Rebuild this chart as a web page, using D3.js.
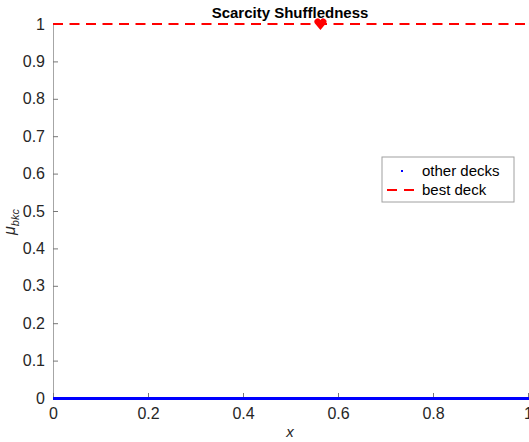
<!DOCTYPE html>
<html>
<head>
<meta charset="utf-8">
<script src="https://cdn.jsdelivr.net/npm/d3@7"></script>
<style>
  body { margin: 0; background: #fff; }
  text { font-family: "Liberation Sans", Arial, sans-serif; }
</style>
</head>
<body>
<svg class="chart"></svg>
<script>
const xTicks = [0, 0.2, 0.4, 0.6, 0.8, 1];
const yTicks = [0, 0.1, 0.2, 0.3, 0.4, 0.5, 0.6, 0.7, 0.8, 0.9, 1];
const tickLabels = ["0", "0.1", "0.2", "0.3", "0.4", "0.5", "0.6", "0.7", "0.8", "0.9", "1"];
const xTickLabels = ["0", "0.2", "0.4", "0.6", "0.8", "1"];

// other decks: all sit at 0
const otherX = [
  0, 0.01, 0.02, 0.03, 0.04, 0.05, 0.06, 0.07, 0.08, 0.09,
  0.1, 0.11, 0.12, 0.13, 0.14, 0.15, 0.16, 0.17, 0.18, 0.19,
  0.2, 0.21, 0.22, 0.23, 0.24, 0.25, 0.26, 0.27, 0.28, 0.29,
  0.3, 0.31, 0.32, 0.33, 0.34, 0.35, 0.36, 0.37, 0.38, 0.39,
  0.4, 0.41, 0.42, 0.43, 0.44, 0.45, 0.46, 0.47, 0.48, 0.49,
  0.5, 0.51, 0.52, 0.53, 0.54, 0.55, 0.56, 0.57, 0.58, 0.59,
  0.6, 0.61, 0.62, 0.63, 0.64, 0.65, 0.66, 0.67, 0.68, 0.69,
  0.7, 0.71, 0.72, 0.73, 0.74, 0.75, 0.76, 0.77, 0.78, 0.79,
  0.8, 0.81, 0.82, 0.83, 0.84, 0.85, 0.86, 0.87, 0.88, 0.89,
  0.9, 0.91, 0.92, 0.93, 0.94, 0.95, 0.96, 0.97, 0.98, 0.99, 1
];
const otherY = 0;

// best deck: dashed line at 1, marker at its x
const bestLine = [[0, 1], [1, 1]];
const bestMarker = { x: 0.563, y: 1 };

const width = 529;
const height = 442;
const margin = { top: 24, right: 1, bottom: 44, left: 53 };

const svg = d3.select(".chart").attr("width", width).attr("height", height);

const x = d3.scaleLinear().domain([0, 1]).range([margin.left, width - margin.right]);
const y = d3.scaleLinear().domain([0, 1]).range([height - margin.bottom, margin.top]);

// y axis
const yAxis = svg.append("g")
  .attr("transform", `translate(${margin.left},0)`)
  .call(d3.axisLeft(y).tickValues(yTicks).tickFormat((d, i) => tickLabels[i]).tickSizeInner(-5).tickSizeOuter(0).tickPadding(8));
yAxis.select(".domain").attr("stroke", "#a6a6a6");
yAxis.selectAll(".tick line").attr("stroke", "#777");
yAxis.selectAll(".tick text").attr("font-size", 16).attr("fill", "#262626")
  .attr("font-family", "Liberation Sans, Arial, sans-serif");

// x axis
const xAxis = svg.append("g")
  .attr("transform", `translate(0,${height - margin.bottom})`)
  .call(d3.axisBottom(x).tickValues(xTicks).tickFormat((d, i) => xTickLabels[i]).tickSizeInner(-5).tickSizeOuter(0).tickPadding(10));
xAxis.select(".domain").attr("stroke", "#a6a6a6");
xAxis.selectAll(".tick line").attr("stroke", "#777");
xAxis.selectAll(".tick text").attr("font-size", 16).attr("fill", "#262626")
  .attr("font-family", "Liberation Sans, Arial, sans-serif");

// other decks as dense dots
const step = x(0.01) - x(0);
svg.append("g").attr("shape-rendering", "crispEdges").selectAll("rect")
  .data(otherX)
  .join("rect")
  .attr("x", (d) => Math.max(x(0), x(d) - step / 2 - 0.5))
  .attr("y", y(otherY) - 1.5)
  .attr("width", step + 1)
  .attr("height", 3)
  .attr("fill", "#0000ff");

// best deck dashed line
svg.append("path")
  .datum(bestLine)
  .attr("d", d3.line().x((d) => x(d[0])).y((d) => y(d[1])))
  .attr("fill", "none")
  .attr("stroke", "#ff0000")
  .attr("stroke-width", 2)
  .attr("stroke-dasharray", "10,6.5");

// heart marker
const hx = x(bestMarker.x), hy = y(bestMarker.y);
svg.append("path")
  .attr("d", `M${hx},${hy + 6} L${hx - 5.5},${hy - 0.5} A2.9,2.9 0 0 1 ${hx},${hy - 4} A2.9,2.9 0 0 1 ${hx + 5.5},${hy - 0.5} Z`)
  .attr("fill", "#ff0000");

// title
svg.append("text")
  .attr("x", 290).attr("y", 18)
  .attr("text-anchor", "middle")
  .attr("font-size", 15).attr("font-weight", "bold")
  .attr("fill", "#000")
  .text("Scarcity Shuffledness");

// x label
svg.append("text")
  .attr("x", 290).attr("y", 437)
  .attr("text-anchor", "middle")
  .attr("font-family", "DejaVu Serif, serif")
  .attr("font-style", "italic")
  .attr("font-size", 15).attr("fill", "#262626")
  .text("x");

// y label
const yl = svg.append("text")
  .attr("transform", "translate(15,222) rotate(-90)")
  .attr("text-anchor", "middle")
  .attr("font-family", "DejaVu Serif, serif")
  .attr("font-style", "italic")
  .attr("fill", "#262626");
yl.append("tspan").attr("font-size", 16).text("μ");
yl.append("tspan").attr("font-size", 11).attr("dy", 4).text("bkc");

// legend
const lg = svg.append("g").attr("transform", "translate(382,157)");
lg.append("rect")
  .attr("width", 132).attr("height", 45)
  .attr("fill", "#fff").attr("stroke", "#a0a0a0").attr("stroke-width", 1);
const legendData = [
  { label: "other decks", type: "dot" },
  { label: "best deck", type: "dash" },
];
lg.selectAll("g.item")
  .data(legendData)
  .join("g")
  .attr("class", "item")
  .attr("transform", (d, i) => `translate(0,${14 + i * 19})`)
  .each(function (d) {
    const g = d3.select(this);
    if (d.type === "dot") {
      g.append("rect").attr("x", 19).attr("y", -1).attr("width", 2).attr("height", 2).attr("fill", "#0000ff");
    } else {
      g.append("line").attr("x1", 5).attr("x2", 33).attr("y1", 0).attr("y2", 0)
        .attr("stroke", "#ff0000").attr("stroke-width", 2).attr("stroke-dasharray", "10,7");
    }
    g.append("text").attr("x", 40).attr("y", 5)
      .attr("font-size", 15).attr("fill", "#000").text(d.label);
  });
</script>
</body>
</html>
